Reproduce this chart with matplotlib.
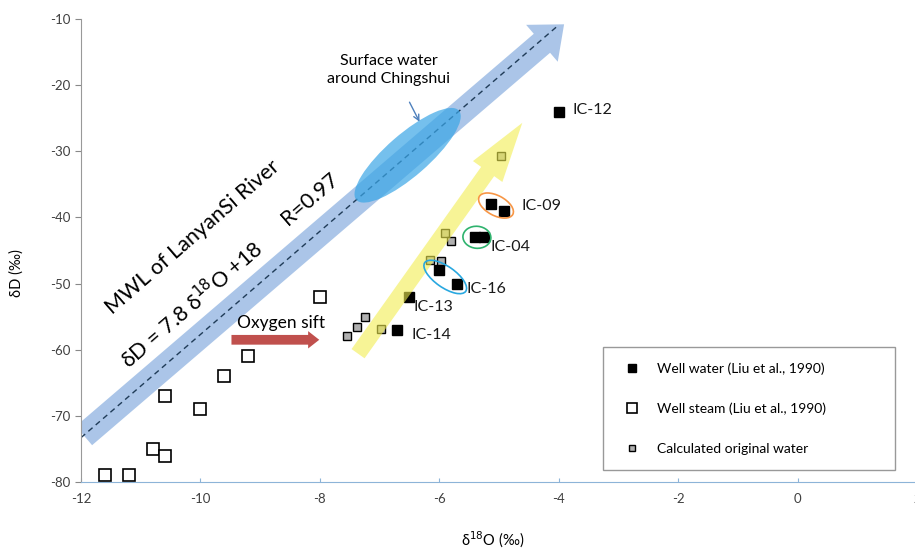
import matplotlib
matplotlib.use("Agg")
import matplotlib.pyplot as plt
from matplotlib.patches import FancyArrowPatch, Ellipse
from matplotlib.transforms import ScaledTranslation

plt.rcParams['font.family'] = ['Lato', 'DejaVu Sans']
plt.rcParams['axes.unicode_minus'] = False

# well water (black squares)
well_water_x = [-4.0, -5.13, -4.92, -5.4, -5.25, -6.0, -5.7, -6.5, -6.7]
well_water_y = [-24.0, -37.9, -39.0, -43.0, -43.0, -48.0, -50.0, -52.0, -57.0]

# well steam (open squares)
steam_x = [-11.6, -11.2, -10.8, -10.6, -10.6, -10.0, -9.6, -9.2, -8.0]
steam_y = [-79.0, -79.0, -75.0, -76.0, -67.0, -69.0, -64.0, -61.0, -52.0]

# calculated original water (grey squares)
calc_x = [-4.97, -5.9, -5.8, -6.15, -5.97, -7.55, -7.38, -7.25, -6.98]
calc_y = [-30.7, -42.3, -43.6, -46.4, -46.6, -58.0, -56.6, -55.0, -56.9]

# MWL line as drawn
mwl_x = [-12.0, -4.0]
mwl_y = [-73.3, -10.9]

labels = ["IC-12", "IC-09", "IC-04", "IC-16", "IC-13", "IC-14"]
label_x = [-3.77, -4.62, -5.15, -5.54, -6.44, -6.46]
label_y = [-23.8, -38.3, -44.4, -50.8, -53.5, -57.7]

fig = plt.figure(figsize=(9.15, 5.53), dpi=100)
ax = fig.add_axes([0.0885, 0.1284, 0.9137, 0.8372])
ax.set_xlim(-12, 2)
ax.set_ylim(-80, -10)

# big arrows
blue = FancyArrowPatch((-11.95, -73.0), (-3.91, -10.8),
                       arrowstyle="simple,head_length=21,head_width=35,tail_width=18",
                       mutation_scale=1, color='#7ea7dc', alpha=0.65, lw=0,
                       shrinkA=0, shrinkB=0, zorder=1)
ax.add_patch(blue)
ax.plot(mwl_x, mwl_y, ls=(0, (4, 3)), color='#1f3b57', lw=1, zorder=2)


def px_ellipse(xc, yc, w, h, ang, **kw):
    # width/height given in pixels, centre in data coords
    tr = fig.dpi_scale_trans + ScaledTranslation(xc, yc, ax.transData)
    e = Ellipse((0, 0), w / 100, h / 100, angle=ang, transform=tr, **kw)
    ax.add_patch(e)


px_ellipse(-6.53, -30.6, 136, 42, 41, facecolor='#3aa6e6', edgecolor='none', alpha=0.7, zorder=3)

ax.plot(steam_x, steam_y, 's', ms=8, mfc='white', mec='black', mew=1.2, ls='none',
        label="Well steam (Liu et al., 1990)", zorder=4)
ax.plot(well_water_x, well_water_y, 's', ms=7.5, mfc='black', mec='black', ls='none',
        label="Well water (Liu et al., 1990)", zorder=4)
ax.plot(calc_x, calc_y, 's', ms=5.5, mfc='#b0b0b0', mec='black', mew=1, ls='none',
        label="Calculated original water", zorder=4)

yellow = FancyArrowPatch((-7.36, -60.6), (-4.61, -25.7),
                         arrowstyle="simple,head_length=43,head_width=26,tail_width=11.5",
                         mutation_scale=1, color='#f2ee50', alpha=0.6, lw=0,
                         shrinkA=0, shrinkB=0, zorder=5)
ax.add_patch(yellow)

red = FancyArrowPatch((-9.48, -58.5), (-8.01, -58.5),
                      arrowstyle="simple,head_length=8,head_width=12.5,tail_width=7",
                      mutation_scale=1, color='#c0504d', lw=0,
                      shrinkA=0, shrinkB=0, zorder=5)
ax.add_patch(red)

# ellipses around sample groups
px_ellipse(-5.05, -38.2, 38, 20, -28, facecolor='none', edgecolor='#f79646', lw=1.2, zorder=6)
px_ellipse(-5.37, -43.0, 28, 22, -5, facecolor='none', edgecolor='#2fb36e', lw=1.2, zorder=6)
px_ellipse(-5.9, -49.0, 50, 21, -35, facecolor='none', edgecolor='#29a8e0', lw=1.2, zorder=6)

for t, x, y in zip(labels, label_x, label_y):
    ax.text(x, y, t, fontsize=11.5, ha='left', va='center', color='#1a1a1a', zorder=7)

ax.text(-10.13, -43.0, "MWL of LanyanSi River", fontsize=15.5, rotation=41,
        ha='center', va='center', rotation_mode='anchor', zorder=7)
ax.text(-10.15, -53.1, "δD = 7.8 δ$^{18}$O +18", fontsize=15.5, rotation=41,
        ha='center', va='center', rotation_mode='anchor', zorder=7)
ax.text(-8.17, -37.2, "R=0.97", fontsize=15.5, rotation=41,
        ha='center', va='center', rotation_mode='anchor', zorder=7)
ax.text(-8.65, -55.9, "Oxygen sift", fontsize=12.5, ha='center', va='center', zorder=7)
ax.text(-6.85, -17.7, "Surface water\naround Chingshui", fontsize=11.5, ha='center',
        va='center', linespacing=1.3, zorder=7)
ax.annotate('', xy=(-6.31, -25.9), xytext=(-6.52, -22.2),
            arrowprops=dict(arrowstyle='->', color='#4f81bd', lw=1))

ax.set_xticks(range(-12, 3, 2))
ax.set_yticks(range(-80, -9, 10))
ax.tick_params(axis='y', direction='out', length=4, color='#888888', labelsize=9.5,
               labelcolor='#404040')
ax.tick_params(axis='x', direction='in', length=3, color='#8db4d8', labelsize=9.5,
               labelcolor='#404040', pad=8)
ax.spines['top'].set_visible(False)
ax.spines['right'].set_visible(False)
ax.spines['left'].set_color('#999999')
ax.spines['bottom'].set_color('#8db4d8')

fig.text(0.538, 0.024, "δ$^{18}$O (‰)", fontsize=10.5, ha='center', va='center')
fig.text(0.018, 0.506, "δD (‰)", fontsize=10.5, rotation=90, ha='center', va='center')

h, l = ax.get_legend_handles_labels()
leg = ax.legend([h[1], h[0], h[2]], [l[1], l[0], l[2]],
                bbox_to_anchor=(0.6244, 0.026, 0.349, 0.274), loc='lower left',
                mode='expand', borderaxespad=0, fontsize=10, labelspacing=2.0,
                borderpad=1.1, fancybox=False, edgecolor='#999999', framealpha=1,
                handletextpad=0.8, markerscale=0.85)
leg.get_frame().set_linewidth(1)
leg.set_zorder(8)

fig.savefig("out.png", dpi=100)
